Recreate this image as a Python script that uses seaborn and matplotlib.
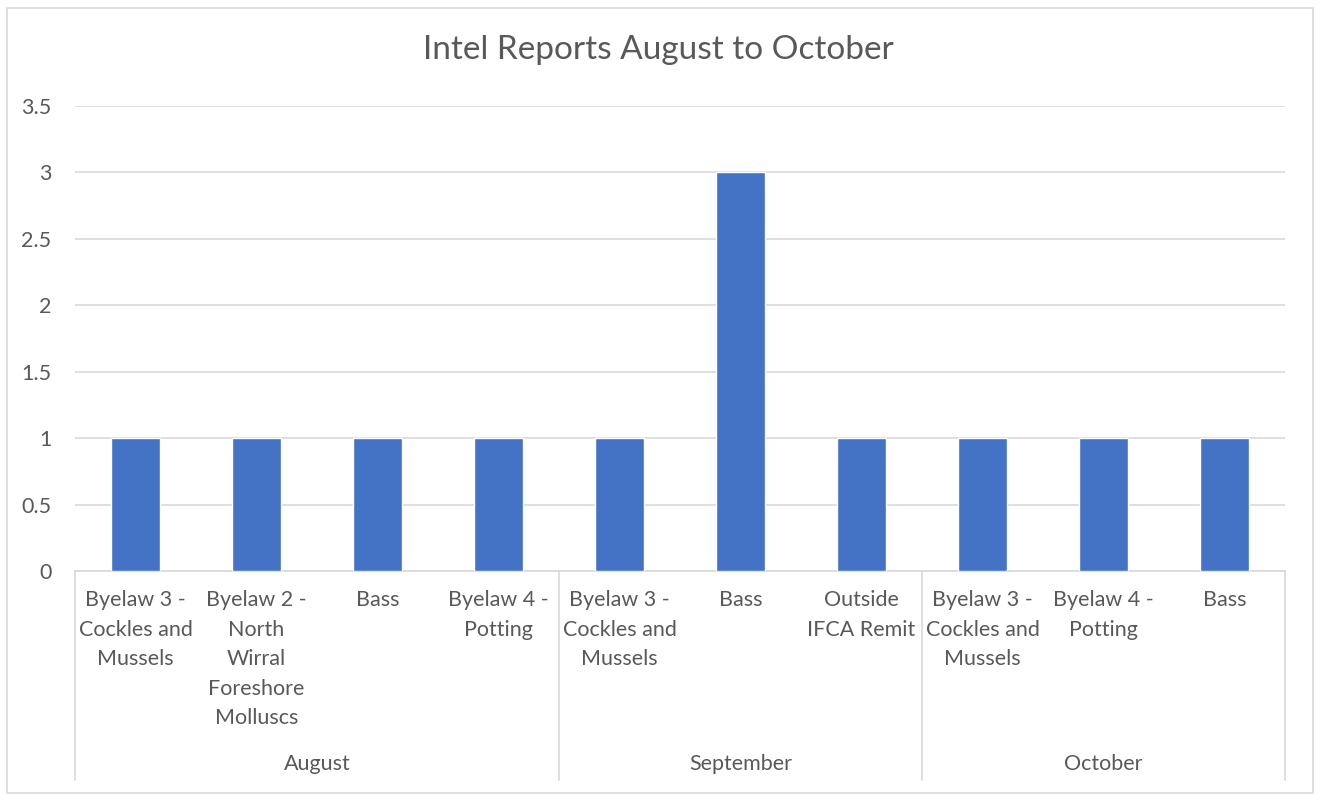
import matplotlib
matplotlib.use("Agg")
import matplotlib.pyplot as plt
import matplotlib.transforms as mtransforms
from matplotlib.patches import Rectangle
import seaborn as sns
import pandas as pd

# ---- data ----
months = ["August", "September", "October"]
august_cats = ["Byelaw 3 -\nCockles and\nMussels",
               "Byelaw 2 -\nNorth\nWirral\nForeshore\nMolluscs",
               "Bass",
               "Byelaw 4 -\nPotting"]
august_vals = [1, 1, 1, 1]
september_cats = ["Byelaw 3 -\nCockles and\nMussels", "Bass", "Outside\nIFCA Remit"]
september_vals = [1, 3, 1]
october_cats = ["Byelaw 3 -\nCockles and\nMussels", "Byelaw 4 -\nPotting", "Bass"]
october_vals = [1, 1, 1]
y_ticks = [0, 0.5, 1, 1.5, 2, 2.5, 3, 3.5]
title = "Intel Reports August to October"

groups = [(months[0], august_cats, august_vals),
          (months[1], september_cats, september_vals),
          (months[2], october_cats, october_vals)]
rows = []
for m, cats, vals in groups:
    for c, v in zip(cats, vals):
        rows.append({"month": m, "category": c, "value": v, "key": f"{m}|{c}"})
df = pd.DataFrame(rows)

# ---- style ----
sns.set_theme(style="white")
plt.rcParams["font.family"] = ["Lato", "DejaVu Sans"]
text_color = "#595959"
grid_color = "#d9d9d9"
bar_color = "#4472C4"
fs = 15.5

W, H = 1317, 796
fig = plt.figure(figsize=(W / 100, H / 100), dpi=100)
x0, x1, y_top, y_bot = 75, 1285, 106, 571
ax = fig.add_axes([x0 / W, 1 - y_bot / H, (x1 - x0) / W, (y_bot - y_top) / H])

sns.barplot(data=df, x="key", y="value", order=list(df["key"]), color=bar_color,
            saturation=1, width=0.4, ax=ax, zorder=3)

ax.set_ylim(0, 3.5)
ax.set_xlim(-0.5, len(df) - 0.5)
ax.set_yticks(y_ticks)
ax.set_yticklabels([f"{t:g}" for t in y_ticks], color=text_color, fontsize=fs)
ax.tick_params(axis="y", length=0, pad=17)
ax.tick_params(axis="x", length=0)
ax.set_xticks([])
ax.set_xlabel("")
ax.set_ylabel("")
ax.yaxis.grid(True, color=grid_color, linewidth=1.2, zorder=0)
ax.set_axisbelow(True)
for s in ["left", "right", "top"]:
    ax.spines[s].set_visible(False)
ax.spines["bottom"].set_color(grid_color)
ax.spines["bottom"].set_linewidth(1.2)

trans = mtransforms.blended_transform_factory(ax.transData, ax.transAxes)
plot_h = y_bot - y_top
def frac(ypx):
    return (y_bot - ypx) / plot_h

# category labels
for i, c in enumerate(df["category"]):
    ax.text(i, frac(590), c, transform=trans, ha="center", va="top",
            fontsize=fs, color=text_color, linespacing=1.6, multialignment="center")

# group separators and month labels
start = 0
bounds = [-0.5]
for m, cats, vals in groups:
    n = len(cats)
    bounds.append(start + n - 0.5)
    ax.text(start + (n - 1) / 2, frac(764), m, transform=trans, ha="center",
            va="center", fontsize=fs, color=text_color)
    start += n
for b in bounds:
    ax.plot([b, b], [0, frac(780)], transform=trans, color=grid_color,
            linewidth=1.2, clip_on=False)

fig.text(0.5, 1 - 50 / H, title, ha="center", va="center", fontsize=24,
         color=text_color)

fig.patches.append(Rectangle((7 / W, 1 - 793 / H), (1313 - 7) / W, (793 - 8) / H,
                             transform=fig.transFigure, fill=False,
                             edgecolor=grid_color, linewidth=1.2))

fig.savefig("out.png", dpi=100, facecolor="white")
